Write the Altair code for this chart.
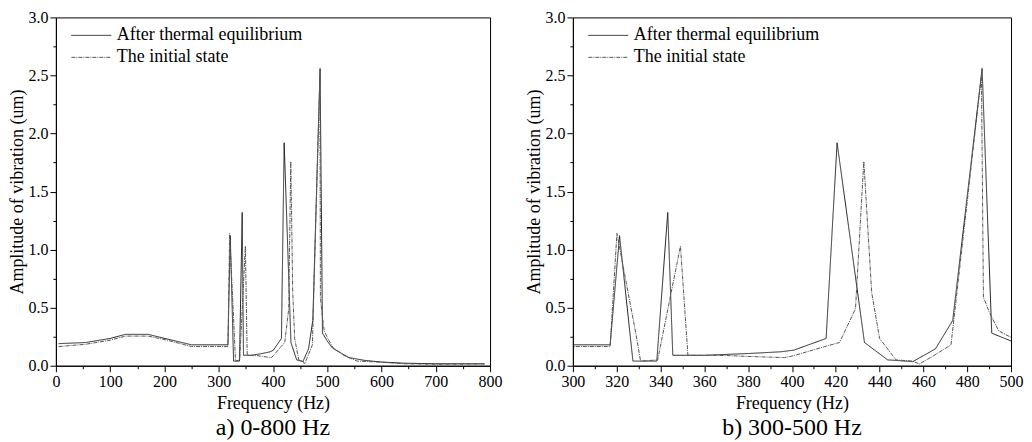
import altair as alt
import pandas as pd

series_names = ["After thermal equilibrium", "The initial state"]

after_f = [5, 55, 100, 128, 170, 205, 250, 317, 321.3, 327.4, 338.3, 343.3, 345.6, 360, 380, 395, 401,
           415.6, 420.6, 433.1, 443.7, 448, 455.1, 465.5, 473.4, 486.8, 491.2, 500.4, 510, 540, 570,
           600, 640, 700, 790]
after_a = [0.19, 0.20, 0.235, 0.27, 0.27, 0.23, 0.18, 0.18, 1.12, 0.04, 0.04, 1.32, 0.09, 0.09, 0.105,
           0.12, 0.135, 0.235, 1.92, 0.20, 0.05, 0.045, 0.035, 0.145, 0.39, 2.56, 0.28, 0.21, 0.15,
           0.07, 0.045, 0.032, 0.022, 0.017, 0.017]

init_f = [5, 55, 100, 128, 170, 205, 250, 317, 320.1, 328.9, 330.9, 338.7, 349.1, 352.5, 370, 380,
          396.6, 400.5, 415, 421.7, 429, 432.8, 436.4, 440, 447.5, 455, 458.2, 465, 472.6, 486.5,
          487.4, 490.1, 494.4, 500.4, 510, 530, 555, 600, 640, 700, 790]
init_a = [0.165, 0.185, 0.22, 0.255, 0.255, 0.22, 0.165, 0.165, 1.14, 0.26, 0.04, 0.05, 1.03, 0.09,
          0.088, 0.08, 0.07, 0.085, 0.165, 0.2, 0.49, 1.76, 0.63, 0.235, 0.05, 0.04, 0.015, 0.09,
          0.18, 2.5, 0.59, 0.46, 0.30, 0.24, 0.16, 0.09, 0.04, 0.03, 0.017, 0.012, 0.015]

df = pd.concat([
    pd.DataFrame({"f": after_f, "a": after_a, "s": series_names[0], "o": range(len(after_f))}),
    pd.DataFrame({"f": init_f, "a": init_a, "s": series_names[1], "o": range(len(init_f))}),
])

FONT = "Liberation Serif"
H = 349


def panel(xmin, xmax, major, minor, caption, width):
    xvals = list(range(xmin, xmax + 1, minor))
    yvals = [i * 0.25 for i in range(13)]
    x_axis = alt.Axis(
        values=xvals,
        labelExpr=f"datum.value % {major} === 0 ? datum.label : ''",
        tickSize={"condition": {"test": f"datum.value % {major} === 0", "value": 6}, "value": 3},
        grid=False, labelFlush=False, labelOverlap=False,
        labelFont=FONT, labelFontSize=16, labelColor="black", labelPadding=2,
        title="Frequency (Hz)", titleFont=FONT, titleFontSize=18, titleFontWeight="normal",
        titleColor="black", titlePadding=5,
        domainColor="black", tickColor="black",
    )
    y_axis = alt.Axis(
        values=yvals, format=".1f",
        labelExpr="datum.value % 0.5 === 0 ? datum.label : ''",
        tickSize={"condition": {"test": "datum.value % 0.5 === 0", "value": 6}, "value": 3},
        grid=False, labelOverlap=False,
        labelFont=FONT, labelFontSize=16, labelColor="black", labelPadding=2,
        title="Amplitude of vibration (um)", titleFont=FONT, titleFontSize=18,
        titleFontWeight="normal", titleColor="black", titlePadding=1,
        domainColor="black", tickColor="black",
    )
    legend = alt.Legend(
        title=None, orient="none", legendX=15, legendY=7, padding=0,
        symbolType="stroke", symbolSize=1600, symbolStrokeWidth=1,
        labelFont=FONT, labelFontSize=18, labelColor="black", labelOffset=5,
        labelLimit=400, clipHeight=22, rowPadding=0,
    )
    return alt.Chart(df).mark_line(clip=True, strokeWidth=1).encode(
        x=alt.X("f:Q", scale=alt.Scale(domain=[xmin, xmax], nice=False, zero=False), axis=x_axis),
        y=alt.Y("a:Q", scale=alt.Scale(domain=[0, 3.0], nice=False), axis=y_axis),
        color=alt.Color("s:N", scale=alt.Scale(domain=series_names, range=["#222222", "#555555"]),
                        legend=legend),
        strokeDash=alt.StrokeDash("s:N", scale=alt.Scale(domain=series_names, range=[[1, 0], [4, 1, 1, 1]]),
                                  legend=legend),
        order="o:Q",
    ).properties(
        width=width, height=H,
        title=alt.TitleParams(caption, orient="bottom", font=FONT, fontSize=24, fontWeight="normal",
                              color="black", offset=3),
    )


left = panel(0, 800, 100, 50, "a) 0-800 Hz", 435)
right = panel(300, 500, 20, 10, "b) 300-500 Hz", 439)

chart = alt.hconcat(left, right, spacing=22).resolve_scale(
    color="independent", strokeDash="independent", x="independent"
).properties(padding=0).configure_view(stroke="black", strokeWidth=1)

chart.save("out.html", embed_options={"renderer": "svg", "actions": False})
